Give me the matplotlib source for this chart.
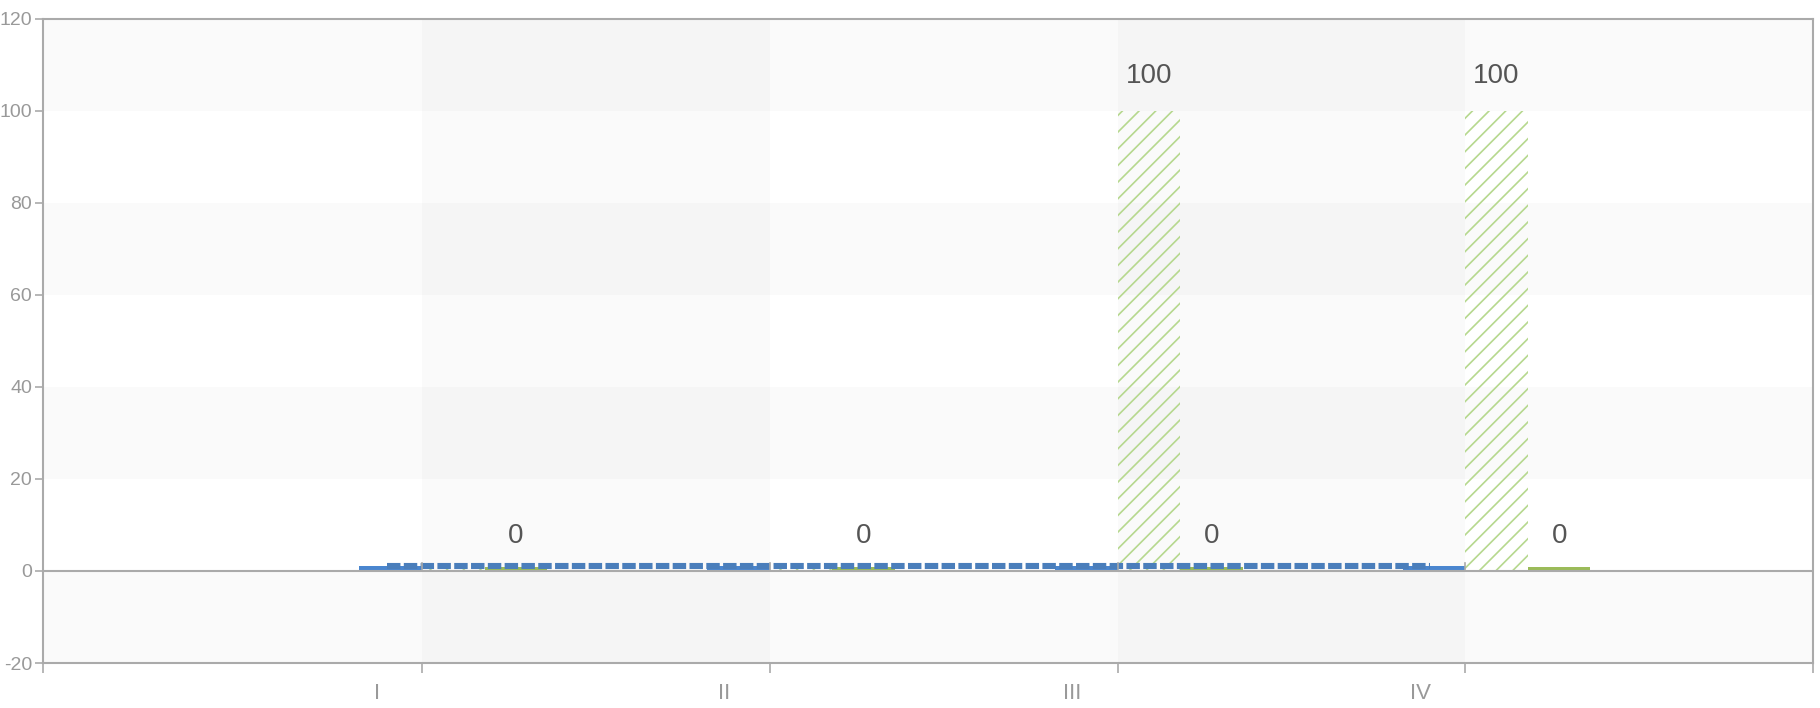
import numpy as np
import matplotlib
matplotlib.use("Agg")
import matplotlib.pyplot as plt

# data
categories = ["I", "II", "III", "IV"]
blue_vals = [1, 1, 1, 1]
hatch_vals = [0, 0, 100, 100]
green_vals = [0, 0, 0, 0]
line_vals = [1, 1, 1, 1]

plt.rcParams["font.family"] = ["Liberation Sans", "DejaVu Sans"]
plt.rcParams["hatch.linewidth"] = 1.2
plt.rcParams["axes.unicode_minus"] = False

fig = plt.figure(figsize=(18.2, 7.08), dpi=100)
ax = fig.add_axes([43 / 1820, 1 - 663 / 708, (1813 - 43) / 1820, (663 - 18.6) / 708])

pos = np.arange(1, len(categories) + 1)
xmin, xmax = -0.09, 5.0
ymin, ymax = -20, 120
w = 0.18
min_h = 0.8
gray = "#aaaaaa"

# background split areas
for y0 in (-20, 20, 60, 100):
    ax.axhspan(y0, y0 + 20, color="black", alpha=0.02, lw=0, zorder=0)
for x0 in (1, 3):
    ax.axvspan(x0, x0 + 1, color="black", alpha=0.02, lw=0, zorder=0)

# bars
ax.bar(pos - w / 2, blue_vals, width=w, color="#4a86cf", zorder=2)
ax.bar(pos + w / 2, [max(v, min_h) for v in hatch_vals], width=w,
       facecolor="none", edgecolor="#b6d88e", hatch="//", lw=0, zorder=2)
ax.bar(pos + 1.5 * w, [max(v, min_h) for v in green_vals], width=w,
       color="#9bbb59", zorder=2)

# dashed line
ax.plot(pos - 0.1, line_vals, color="#4a7ebb", lw=4.4, ls=(0, (2.2, 0.55)),
        dash_capstyle="butt", zorder=3)

# value labels
for x, v in zip(pos, hatch_vals):
    if v > 0:
        ax.annotate(str(v), (x + w / 2, v), xytext=(0, 25), textcoords="offset points",
                    ha="center", va="center", fontsize=20, color="#555555")
for x, v in zip(pos, green_vals):
    ax.annotate(str(v), (x + 1.5 * w, v), xytext=(0, 25), textcoords="offset points",
                ha="center", va="center", fontsize=20, color="#555555")

# zero line with small ticks
ax.axhline(0, color=gray, lw=1.5, zorder=4)
for x in pos:
    ax.plot([x, x], [0, 1.8], color=gray, lw=1.2, zorder=4)

ax.set_xlim(xmin, xmax)
ax.set_ylim(ymin, ymax)
ax.set_yticks(np.arange(-20, 121, 20))
ax.set_xticks([xmin] + list(pos) + [xmax])
ax.set_xticklabels([])
for i, c in enumerate(categories):
    ax.annotate(c, (pos[i] - 0.13, ymin), xytext=(0, -22), textcoords="offset points",
                ha="center", va="center", fontsize=16, color="#999999")

for s in ax.spines.values():
    s.set_color(gray)
    s.set_linewidth(1.5)
ax.tick_params(axis="both", colors=gray, length=7, width=1.2, labelsize=14,
               labelcolor="#999999")
ax.tick_params(axis="y", pad=2, length=6)

fig.savefig("out.png", dpi=100)
